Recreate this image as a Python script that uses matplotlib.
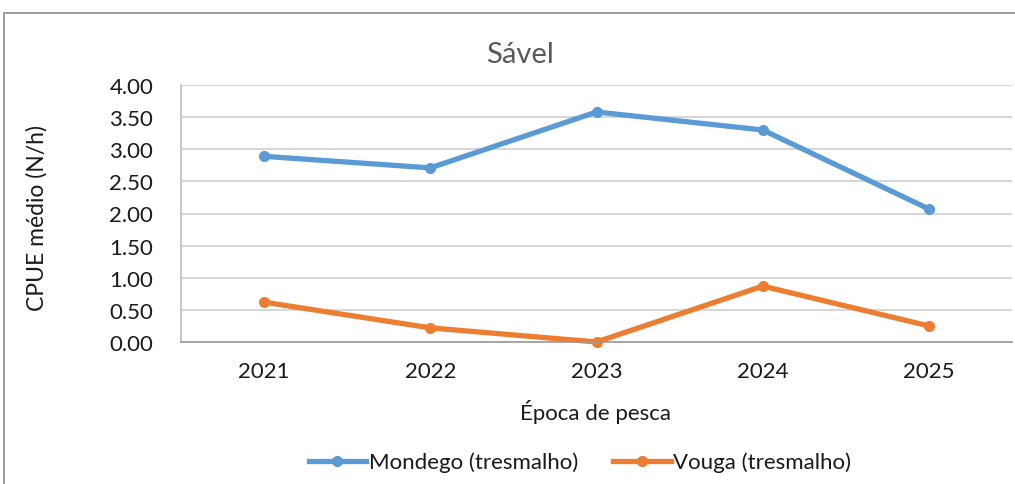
import matplotlib.pyplot as plt
from matplotlib.patches import Rectangle

years = ['2021', '2022', '2023', '2024', '2025']
mondego = [2.89, 2.71, 3.58, 3.30, 2.07]
vouga = [0.62, 0.22, 0.00, 0.87, 0.25]
yticks = [0.0, 0.5, 1.0, 1.5, 2.0, 2.5, 3.0, 3.5, 4.0]

plt.rcParams['font.family'] = ['Lato', 'DejaVu Sans']

fig = plt.figure(figsize=(10.15, 4.85), dpi=100)
# outer chart frame
fig.patches.append(Rectangle((4/1015, -0.1), 1.2, 1 - 14/485 + 0.1, transform=fig.transFigure,
                             fill=False, edgecolor='#8c8c8c', linewidth=1.2))

ax = fig.add_axes([181/1015, 1 - 343/485, 831/1015, 257/485])
x = range(len(years))
ax.plot(x, mondego, '-o', color='#5B9BD5', linewidth=3.8, markersize=7, label='Mondego (tresmalho)', clip_on=False)
ax.plot(x, vouga, '-o', color='#ED7D31', linewidth=3.8, markersize=7, label='Vouga (tresmalho)', clip_on=False)

ax.set_xlim(-0.5, 4.5)
ax.set_ylim(0, 4)
ax.set_xticks(list(x))
ax.set_xticklabels(years)
ax.set_yticks(yticks)
ax.set_yticklabels(['%.2f' % v for v in yticks])
ax.tick_params(axis='both', length=0, labelsize=16, colors='#1a1a1a')
ax.tick_params(axis='x', pad=14)
ax.tick_params(axis='y', pad=20)
ax.grid(axis='y', color='#d0d0d0', linewidth=1.2)
ax.set_axisbelow(True)
for s in ['top', 'right']:
    ax.spines[s].set_visible(False)
ax.spines['left'].set_color('#bfbfbf')
ax.spines['bottom'].set_color('#9a9a9a')
ax.spines['left'].set_linewidth(1.2)
ax.spines['bottom'].set_linewidth(1.2)

fig.text(520/1015, 1 - 55/485, 'Sável', ha='center', va='center', fontsize=21, color='#595959')
fig.text(596/1015, 1 - 412/485, 'Época de pesca', ha='center', va='center', fontsize=16, color='#1a1a1a')
fig.text(37/1015, 1 - 218/485, 'CPUE médio (N/h)', ha='center', va='center', rotation=90, fontsize=16.5, color='#1a1a1a')

fig.legend(loc='center', bbox_to_anchor=(580/1015, 1 - 463/485), ncol=2, frameon=False,
           fontsize=16, handlelength=2.6, columnspacing=1.6, handletextpad=0.1, labelcolor='#1a1a1a')

fig.savefig('out.png', dpi=100)
